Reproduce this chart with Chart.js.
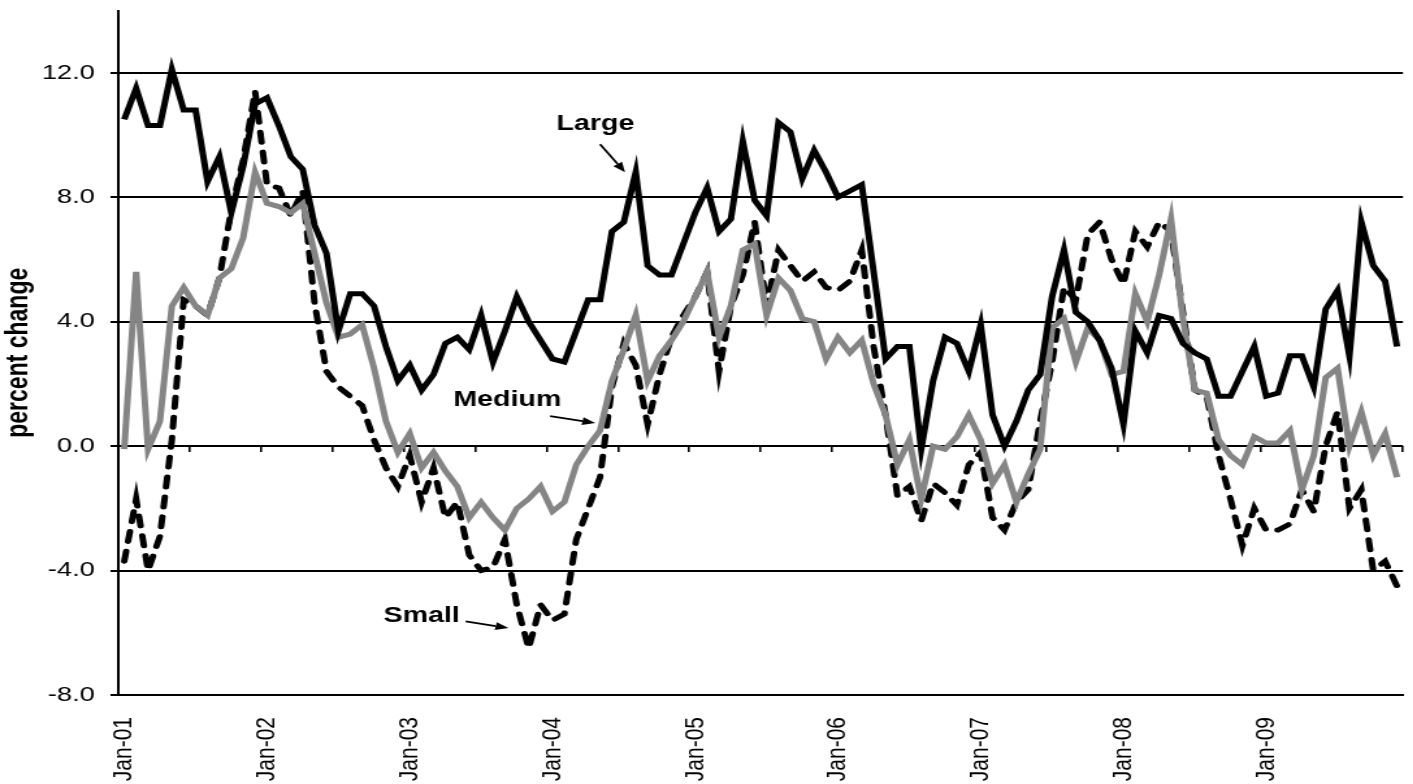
<!DOCTYPE html>
<html><head><meta charset="utf-8">
<script src="https://cdn.jsdelivr.net/npm/chart.js@4.4.1/dist/chart.umd.min.js"></script>
<style>
html,body{margin:0;padding:0;background:#fff;overflow:hidden;}
#wrap{position:absolute;left:0;top:0;width:1087px;height:784px;transform:scaleX(1.3);transform-origin:0 0;}
canvas{display:block;}
</style></head><body>
<div id="wrap"><canvas id="c" width="1087" height="784"></canvas></div>
<script>
// ---- data ----
const monthNames = ['Jan','Feb','Mar','Apr','May','Jun','Jul','Aug','Sep','Oct','Nov','Dec'];
const yearCodes = ['01','02','03','04','05','06','07','08','09'];
const categories = [];
for (const yc of yearCodes) for (const m of monthNames) categories.push(m + '-' + yc);

const large = [
 10.5,11.5,10.3,10.3,12.1,10.8,10.8,8.5,9.3,7.5,9.0,11.0,
 11.2,10.3,9.3,8.9,7.1,6.2,3.7,4.9,4.9,4.5,3.2,2.1,
 2.6,1.8,2.3,3.3,3.5,3.1,4.2,2.7,3.7,4.8,4.0,3.4,
 2.8,2.7,3.7,4.7,4.7,6.9,7.2,8.8,5.8,5.5,5.5,6.5,
 7.5,8.3,6.9,7.3,9.8,7.9,7.4,10.4,10.1,8.6,9.5,8.8,
 8.0,8.2,8.4,5.6,2.8,3.2,3.2,-0.1,2.1,3.5,3.3,2.4,
 3.9,1.0,0.0,0.8,1.8,2.3,4.8,6.3,4.3,4.0,3.4,2.5,
 0.7,3.7,3.0,4.2,4.1,3.3,3.0,2.8,1.6,1.6,2.4,3.2,
 1.6,1.7,2.9,2.9,1.9,4.4,5.0,2.9,7.2,5.8,5.3,3.2
];
const medium = [
 -0.1,5.6,-0.1,0.8,4.5,5.1,4.5,4.2,5.4,5.7,6.7,8.8,
 7.8,7.7,7.5,7.8,6.2,4.6,3.5,3.6,3.9,2.5,0.8,-0.2,
 0.4,-0.7,-0.2,-0.8,-1.3,-2.3,-1.8,-2.3,-2.7,-2.0,-1.7,-1.3,
 -2.1,-1.8,-0.6,0.0,0.5,2.1,3.1,4.2,2.1,2.9,3.4,4.0,
 4.8,5.6,3.5,4.5,6.3,6.5,4.2,5.4,5.0,4.1,4.0,2.8,
 3.5,3.0,3.4,2.0,1.0,-0.6,0.2,-1.7,0.0,-0.1,0.3,1.0,
 0.2,-1.2,-0.6,-1.8,-0.9,-0.1,3.8,4.1,2.7,3.8,3.4,2.3,
 2.4,4.9,4.0,5.5,7.3,4.1,1.8,1.7,0.2,-0.3,-0.6,0.3,
 0.1,0.1,0.5,-1.4,-0.3,2.2,2.5,0.0,1.1,-0.3,0.4,-1.0
];
const small = [
 -3.7,-1.7,-4.0,-2.9,0.2,4.7,4.5,4.2,5.4,7.6,9.2,11.4,
 8.4,8.3,7.4,8.2,4.6,2.4,1.9,1.6,1.3,0.2,-0.7,-1.3,
 -0.3,-1.8,-0.7,-2.3,-1.8,-3.5,-4.0,-3.9,-3.0,-5.1,-6.5,-5.1,
 -5.6,-5.4,-3.0,-2.0,-1.0,1.9,3.3,2.6,0.7,2.3,3.5,4.2,
 4.8,5.6,2.4,4.5,5.5,7.2,4.5,6.3,5.8,5.3,5.6,5.1,
 5.0,5.3,6.3,3.2,1.0,-1.6,-1.3,-2.4,-1.2,-1.5,-1.9,-0.6,
 -0.2,-2.3,-2.7,-1.8,-1.4,0.8,2.7,5.1,4.7,6.8,7.2,6.0,
 5.2,6.9,6.4,7.2,6.9,4.3,1.8,1.6,-0.3,-1.7,-3.2,-2.0,
 -2.7,-2.7,-2.5,-1.4,-2.1,0.0,1.1,-2.0,-1.4,-4.0,-3.7,-4.5
];
const yTicks = [-8, -4, 0, 4, 8, 12];
const seriesNames = ['Large', 'Medium', 'Small'];

// ---- presentation ----
const FONT = '"Liberation Sans", Arial, Helvetica, sans-serif';
const notes = [
  {text: seriesNames[0], tx: 39.6, ty: 10.35, ax: 40.0, ay: 9.7, bx: 42.1, by: 8.8},
  {text: seriesNames[1], tx: 32.2, ty: 1.47, ax: 35.8, ay: 0.96, bx: 39.6, by: 0.74},
  {text: seriesNames[2], tx: 25.0, ty: -5.45, ax: 28.7, ay: -5.63, bx: 32.3, by: -5.85}
];

const annotPlugin = {
  id: 'annot',
  afterDatasetsDraw(chart) {
    const {ctx, scales: {x, y}} = chart;
    ctx.save();
    ctx.fillStyle = '#000';
    ctx.strokeStyle = '#000';
    ctx.font = 'bold 22px ' + FONT;
    ctx.textAlign = 'center';
    ctx.textBaseline = 'middle';
    for (const n of notes) {
      ctx.fillText(n.text, x.getPixelForValue(n.tx), y.getPixelForValue(n.ty));
      const x1 = x.getPixelForValue(n.ax), y1 = y.getPixelForValue(n.ay);
      const x2 = x.getPixelForValue(n.bx), y2 = y.getPixelForValue(n.by);
      const ang = Math.atan2(y2 - y1, x2 - x1), L = 10, W = 4;
      const hx = x2 - L * Math.cos(ang), hy = y2 - L * Math.sin(ang);
      ctx.lineWidth = 1.8;
      ctx.beginPath(); ctx.moveTo(x1, y1); ctx.lineTo(hx, hy); ctx.stroke();
      ctx.beginPath();
      ctx.moveTo(x2, y2);
      ctx.lineTo(hx + W * Math.sin(ang), hy - W * Math.cos(ang));
      ctx.lineTo(hx - W * Math.sin(ang), hy + W * Math.cos(ang));
      ctx.closePath(); ctx.fill();
    }
    ctx.restore();
  }
};

new Chart(document.getElementById('c'), {
  type: 'line',
  data: {
    labels: categories,
    datasets: [
      {label: seriesNames[0], data: large, borderColor: '#000', borderWidth: 5, pointRadius: 0, fill: false, tension: 0, xAxisID: 'x', yAxisID: 'y'},
      {label: seriesNames[1], data: medium, borderColor: '#858585', borderWidth: 5, pointRadius: 0, fill: false, tension: 0, xAxisID: 'x', yAxisID: 'y'},
      {label: seriesNames[2], data: small, borderColor: '#000', borderWidth: 5, borderDash: [10, 10], borderCapStyle: 'round', pointRadius: 0, fill: false, tension: 0, xAxisID: 'x', yAxisID: 'y'}
    ]
  },
  options: {
    responsive: false,
    animation: false,
    devicePixelRatio: 1,
    events: [],
    layout: {padding: {top: 10.5, right: 7.8, left: 0, bottom: 0}},
    plugins: {legend: {display: false}, tooltip: {enabled: false}},
    scales: {
      x: {
        type: 'category',
        offset: true,
        grid: {display: false, drawTicks: false},
        border: {display: true, color: '#000', width: 2},
        ticks: {
          autoSkip: false, minRotation: 90, maxRotation: 90, padding: 22,
          color: '#000', font: {family: FONT, size: 21},
          callback: function (v, i) { return i % 12 === 0 ? this.getLabelForValue(v) : ''; }
        },
        afterFit: s => { s.height = 89; s.paddingLeft = 0; s.paddingRight = 0; }
      },
      x0: {
        type: 'category',
        axis: 'x',
        offset: true,
        position: {y: 0},
        grid: {
          display: true, drawOnChartArea: false, drawTicks: true, tickLength: 6, offset: true, lineWidth: 1.6,
          color: c => (c.index === undefined || c.index % 6 === 0) ? '#000' : 'rgba(0,0,0,0)'
        },
        border: {display: false},
        ticks: {display: false, autoSkip: false}
      },
      y: {
        min: -8, max: 14,
        afterBuildTicks: s => { s.ticks = yTicks.map(v => ({value: v})); },
        grid: {color: '#000', lineWidth: 2, drawTicks: true, tickLength: 6},
        border: {display: true, color: '#000', width: 2},
        ticks: {color: '#000', padding: 12, font: {family: FONT, size: 21}, callback: v => Number(v).toFixed(1)},
        title: {display: true, text: 'percent change', color: '#000', font: {family: FONT, size: 23, weight: 'bold'}, padding: {top: 0.5, bottom: 0}},
        afterFit: s => { s.width = 91; s.paddingTop = 0; s.paddingBottom = 0; }
      }
    }
  },
  plugins: [annotPlugin]
});
</script>
</body></html>
